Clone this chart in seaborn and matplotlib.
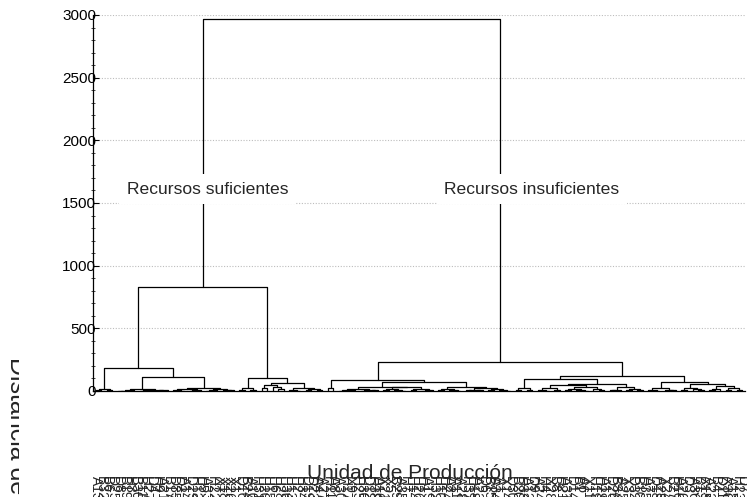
import matplotlib
matplotlib.use("Agg")
import matplotlib.pyplot as plt
import numpy as np
import pandas as pd
import seaborn as sns
from matplotlib.ticker import MultipleLocator
from matplotlib.patches import Rectangle

# ---------------- data ----------------
# tree nodes: [merge height, left, right]; a leaf is written as 0
root_height = 2965

grupo_suficientes = [830,
    [184,
        [16, [4, 0, 0], [9, 0, 0]],
        [109,
            [18, [8, [3, [1, 0, 0], 0], 0], [10, [4, [2, 0, 0], 0], [6, [3, 0, 0], 0]]],
            [26, [12, [5, 0, [2, 0, 0]], [7, [3, 0, 0], 0]], [14, [4, [2, 0, 0], 0], [9, 0, [5, 0, 0]]]]]],
    [100,
        [25, [6, 0, 0], [10, 0, 0]],
        [66,
            [48, [20, 0, 0], [35, 0, [12, 0, 0]]],
            [25, [8, 0, [3, 0, 0]], [14, [4, 0, 0], [6, 0, 0]]]]]]

grupo_insuficientes = [231,
    [85,
        [20, 0, 0],
        [70,
            [35, [15, [6, [2, 0, 0], [4, 0, 0]], [9, [3, 0, 0], [5, 0, 0]]],
                 [28, [12, [4, 0, 0], [7, 0, [2, 0, 0]]], [18, [5, 0, 0], [9, [3, 0, 0], 0]]]],
            [35, [14, [5, 0, 0], [8, 0, [3, 0, 0]]],
                 [22, [10, [4, 0, 0], [6, 0, 0]], [16, [5, 0, 0], [9, 0, [3, 0, 0]]]]]]],
    [120,
        [93,
            [22, [6, 0, 0], [11, 0, 0]],
            [55, [48, [20, [6, 0, [3, 0, 0]], [9, 0, 0]], [30, [12, [4, 0, 0], [5, 0, [2, 0, 0]]], [16, 0, [7, 0, 0]]]],
                 [35, [10, [4, 0, 0], 0], [18, [6, 0, 0], [8, 0, 0]]]]],
        [70,
            [20, [6, 0, [3, 0, 0]], [9, 0, [4, 0, 0]]],
            [53, [25, [8, 0, 0], [12, 0, [5, 0, 0]]],
                 [40, [14, [5, 0, 0], 0], [20, [6, 0, 0], [9, 0, 0]]]]]]]

leaf_labels = ["A13", "B32", "B6", "D25", "D8", "B19", "H3", "B30", "B11", "H27",
               "D4", "H9", "A21", "B17", "D35", "D2", "A14", "D29", "H12", "H5",
               "A33", "H22", "X7", "X18", "X26", "X1", "D16", "B24", "A10", "H31",
               "H20", "H15", "H6", "H28", "H36", "H13", "H2", "H34", "D19", "D23",
               "A4", "A27", "H11", "A8", "A30", "H17", "X9", "H25", "H30", "D12",
               "H38", "A16", "X21", "X5", "B29", "A35", "H7", "H14", "H26", "H1",
               "A19", "H32", "H10", "H24", "A2", "A11", "A28", "H37", "H18", "A23",
               "D6", "B15", "A34", "A1", "X14", "D30", "B20", "H33", "A12", "D9",
               "A24", "H4", "X28", "B8", "H21", "A31", "D14", "B1", "A6", "X11",
               "H19", "H29", "A17", "D26", "B34", "A25", "X3", "D32", "B10", "H35",
               "A7", "D18", "A29", "X24", "B27", "H16", "A20", "D3", "A36", "B13",
               "X15", "A22", "B4", "D11", "X30", "A15", "H23", "D7"]

cluster_names = ["Recursos suficientes", "Recursos insuficientes"]
y_major = [0, 500, 1000, 1500, 2000, 2500, 3000]
x_title = "Unidad de Producción"
y_title = "Distancia de ligamiento"

# ---------------- layout of the dendrogram ----------------
tree = [root_height, grupo_suficientes, grupo_insuficientes]
rows = []
leaf_x = []


def layout(node):
    if not isinstance(node, list):
        x = 5 + 10 * len(leaf_x)
        leaf_x.append(x)
        return x, 0.0
    h, left, right = node
    xl, hl = layout(left)
    xr, hr = layout(right)
    seg = len(rows) // 4
    for k, (px, py) in enumerate([(xl, hl), (xl, h), (xr, h), (xr, hr)]):
        rows.append({"seg": seg, "k": k, "x": px, "y": py})
    return (xl + xr) / 2.0, h


layout(tree)
df = pd.DataFrame(rows)
n_leaves = len(leaf_x)

# ---------------- drawing ----------------
sns.set_theme(style="white")
plt.rcParams["font.family"] = ["Liberation Sans", "DejaVu Sans"]

W, H = 747, 497
fig = plt.figure(figsize=(W / 100, H / 100), dpi=100)
ax = fig.add_axes([93 / W, 1 - 391 / H, 652 / W, 376 / H])

for yv in y_major[1:]:
    ax.axhline(yv, color="#bdbdbd", lw=0.8, ls=(0, (1, 1.5)), zorder=0)

sns.lineplot(data=df, x="x", y="y", units="seg", estimator=None, sort=False,
             color="black", linewidth=0.9, ax=ax, zorder=2)

ax.set_xlim(0, 10 * n_leaves)
ax.set_ylim(0, 3000)
ax.set_yticks(y_major)
ax.yaxis.set_minor_locator(MultipleLocator(100))
ax.tick_params(axis="y", which="major", direction="in", length=4, width=0.8,
               pad=-2.2, labelsize=11, colors="black", left=True)
ax.tick_params(axis="y", which="minor", direction="inout", length=3, width=0.6,
               left=True)
for lab in ax.get_yticklabels():
    lab.set_zorder(5)

ax.set_xticks(leaf_x)
ax.set_xticklabels(leaf_labels, rotation=270, fontsize=10)
ax.tick_params(axis="x", length=0, pad=61)

for side in ["top", "right"]:
    ax.spines[side].set_visible(False)
for side in ["left", "bottom"]:
    ax.spines[side].set_color("black")
    ax.spines[side].set_linewidth(0.9)

ax.set_ylabel("")
ax.set_xlabel(x_title, fontsize=15)
ax.xaxis.label.set_va("baseline")
ax.xaxis.set_label_coords((410 - 93) / 652, (391 - 479) / 376)

for name, xf in zip(cluster_names, [0.176, 0.673]):
    ax.text(xf, 0.537, name, transform=ax.transAxes, fontsize=12.6,
            ha="center", va="center", zorder=4,
            bbox=dict(facecolor="white", edgecolor="none", pad=5.5))

# y title: only its left part shows in the reference
fig.text(5 / W, 1 - 357 / H, y_title, rotation=270, fontsize=18,
         ha="left", va="top", zorder=1)
fig.patches.append(Rectangle((19 / W, 0), 40 / W, 1 - 340 / H,
                             transform=fig.transFigure, facecolor="white",
                             edgecolor="none", zorder=3))

fig.savefig("out.png", dpi=100)
